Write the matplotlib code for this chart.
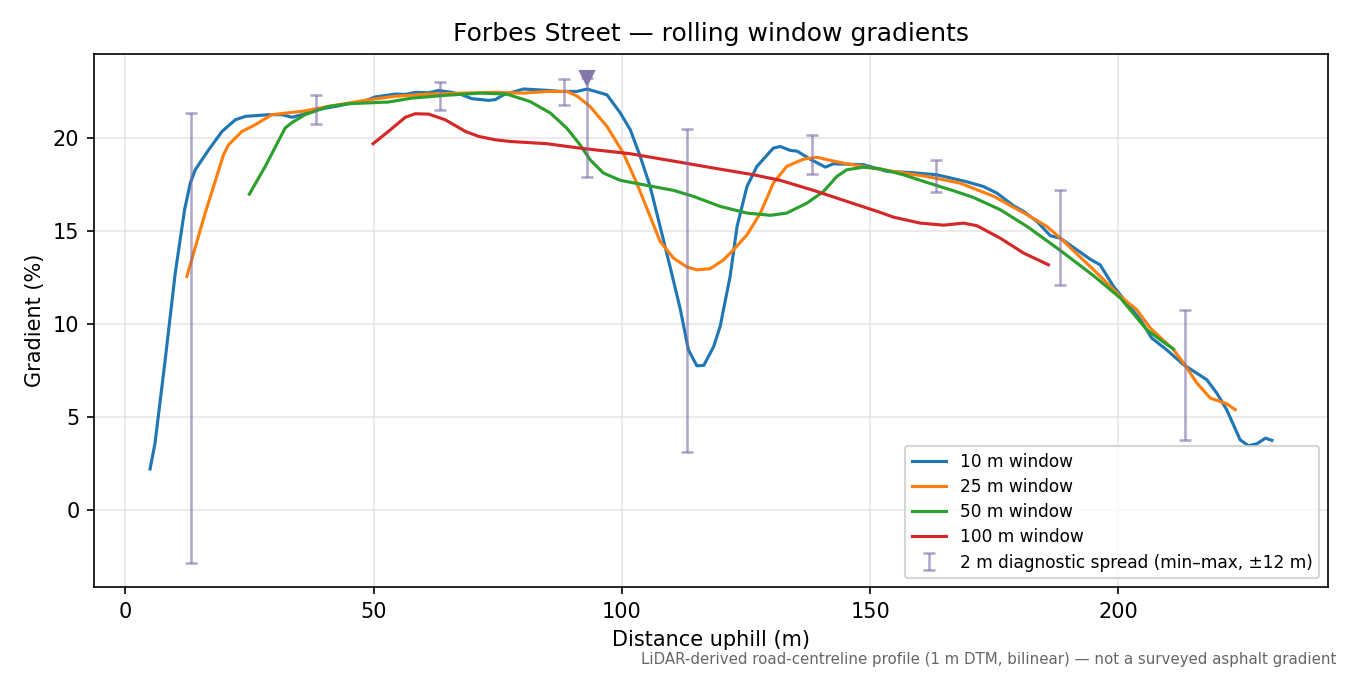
import matplotlib
matplotlib.use("Agg")
import matplotlib.pyplot as plt
import numpy as np

# 10 m window
x10 = [5.0, 6.0, 8.05, 10.07, 11.95, 13.1, 14.1, 16.8, 19.5, 22.2, 24.2, 28.9, 31.6, 33.6, 35.6,
       38.3, 42.3, 45.0, 47.7, 50.3, 54.4, 56.4, 58.4, 61.1, 63.1, 65.8, 67.8, 69.8, 73.2, 74.5,
       76.2, 80.2, 84.9, 87.6, 91.0, 93.0, 97.0, 99.7, 101.7, 103.7, 105.7, 107.7, 109.7, 111.8,
       113.4, 115.1, 116.5, 118.5, 119.8, 121.8, 123.2, 125.2, 127.2, 130.5, 131.9, 133.9, 135.3,
       137.9, 141.0, 142.6, 148.7, 153.4, 158.1, 163.4, 169.5, 172.8, 175.5, 178.9, 180.9, 183.6,
       186.3, 188.3, 191.6, 194.3, 196.3, 199.0, 201.7, 204.4, 206.7, 209.7, 213.1, 217.8, 219.8,
       221.8, 224.5, 226.2, 227.9, 229.6, 230.9]
g10 = [2.19, 3.58, 8.06, 12.72, 16.13, 17.56, 18.28, 19.35, 20.34, 20.97, 21.15, 21.24, 21.24, 21.1, 21.24,
       21.5, 21.68, 21.83, 21.92, 22.19, 22.35, 22.33, 22.44, 22.42, 22.54, 22.44, 22.31, 22.1, 22.01, 22.05,
       22.31, 22.62, 22.55, 22.49, 22.49, 22.62, 22.31, 21.33, 20.43, 19.0, 17.38, 15.23, 13.08, 10.75,
       8.6, 7.74, 7.76, 8.78, 9.86, 12.54, 15.23, 17.38, 18.46, 19.44, 19.53, 19.32, 19.28,
       18.85, 18.42, 18.6, 18.55, 18.19, 18.13, 18.01, 17.63, 17.38, 17.03, 16.34, 16.04, 15.5,
       14.73, 14.6, 13.98, 13.47, 13.17, 12.01, 11.11, 10.22, 9.23, 8.6, 7.8, 6.99, 6.27,
       5.38, 3.76, 3.44, 3.55, 3.85, 3.73]

# 25 m window
x25 = [12.4, 16.1, 19.8, 20.8, 23.5, 26.2, 29.5, 35.6, 40.9, 47.7, 54.4, 61.1, 67.8, 74.5, 80.2,
       84.9, 88.9, 91.0, 93.6, 97.0, 100.3, 103.0, 105.7, 107.7, 110.4, 113.1, 115.1, 117.8, 120.5,
       122.5, 125.2, 127.9, 130.5, 133.2, 136.6, 139.3, 142.0, 145.3, 152.0, 154.7, 161.4, 168.1,
       174.9, 181.6, 185.6, 188.3, 195.0, 200.4, 203.7, 206.4, 211.1, 213.1, 215.8, 218.5, 220.5,
       221.8, 223.5]
g25 = [12.54, 15.95, 19.09, 19.62, 20.34, 20.7, 21.24, 21.42, 21.68, 21.99, 22.23, 22.35, 22.4, 22.44, 22.4,
       22.49, 22.49, 22.24, 21.68, 20.61, 19.18, 17.56, 15.77, 14.43, 13.53, 13.05, 12.9, 12.96, 13.44,
       13.98, 14.78, 15.95, 17.56, 18.46, 18.85, 18.95, 18.78, 18.6, 18.31, 18.19, 17.92, 17.56,
       16.85, 15.86, 15.23, 14.6, 12.9, 11.47, 10.75, 9.77, 8.6, 7.89, 6.81, 6.0, 5.82,
       5.7, 5.38]

# 50 m window
x50 = [25.0, 28.2, 32.2, 33.6, 36.2, 40.9, 45.0, 53.0, 57.7, 64.4, 71.5, 76.8, 81.5, 85.6, 88.9,
       91.6, 93.6, 96.3, 99.7, 105.0, 110.4, 114.4, 119.8, 125.2, 129.9, 133.2, 137.3, 140.6, 143.3,
       145.3, 148.7, 152.0, 156.7, 161.4, 166.8, 170.8, 176.2, 181.6, 188.3, 195.0, 200.4, 205.7,
       208.4, 211.1]
g50 = [16.97, 18.46, 20.52, 20.82, 21.24, 21.68, 21.83, 21.92, 22.13, 22.28, 22.4, 22.35, 21.95, 21.33, 20.52,
       19.62, 18.82, 18.1, 17.71, 17.44, 17.17, 16.85, 16.31, 15.95, 15.83, 15.95, 16.49, 17.11, 17.92,
       18.28, 18.42, 18.33, 18.01, 17.6, 17.15, 16.79, 16.13, 15.23, 13.94, 12.58, 11.38, 9.68,
       9.14, 8.64]

# 100 m window
x100 = [49.9, 53.0, 56.4, 58.4, 61.1, 64.4, 68.5, 71.2, 74.5, 77.5, 84.9, 91.6, 101.7, 111.8, 118.5,
        126.5, 131.9, 138.6, 145.3, 152.0, 154.7, 160.1, 164.8, 168.8, 171.5, 176.2, 180.9, 185.9]
g100 = [19.68, 20.34, 21.1, 21.29, 21.27, 20.97, 20.34, 20.07, 19.89, 19.8, 19.68, 19.44, 19.14, 18.68, 18.37,
        18.01, 17.71, 17.17, 16.58, 15.99, 15.73, 15.41, 15.3, 15.41, 15.27, 14.6, 13.8, 13.17]

# 2 m diagnostic spread (min-max, +-12 m)
spread_x = [13.3, 38.4, 63.4, 88.4, 93.0, 113.2, 138.3, 163.3, 188.3, 213.4]
spread_min = [-2.85, 20.75, 21.5, 21.77, 17.87, 3.08, 18.03, 17.06, 12.06, 3.73]
spread_max = [21.34, 22.3, 23.0, 23.17, 23.2, 20.48, 20.16, 18.78, 17.2, 10.75]

# steepest 2 m point marker
peak_x = [93.0]
peak_y = [23.2]

fig = plt.figure(figsize=(9, 4.5), dpi=150)
ax = fig.add_axes([0.0696, 0.1304, 0.9141, 0.7896])

ax.plot(x10, g10, color='#1f77b4', lw=1.5, label='10 m window')
ax.plot(x25, g25, color='#ff7f0e', lw=1.5, label='25 m window')
ax.plot(x50, g50, color='#2ca02c', lw=1.5, label='50 m window')
ax.plot(x100, g100, color='#d62728', lw=1.5, label='100 m window')

sx = np.array(spread_x)
smin = np.array(spread_min)
smax = np.array(spread_max)
mid = (smin + smax) / 2
ax.errorbar(sx, mid, yerr=[mid - smin, smax - mid], fmt='none', ecolor='#7b68a6',
            alpha=0.6, elinewidth=1.2, capsize=3, capthick=1.2,
            label='2 m diagnostic spread (min–max, ±12 m)')
ax.plot(peak_x, peak_y, marker='v', color='#8677ab', ms=6.5, ls='none')

ax.grid(True, color='#dddddd', alpha=0.7, lw=0.8)
ax.set_axisbelow(True)
ax.set_title('Forbes Street — rolling window gradients', fontsize=12)
ax.set_xlabel('Distance uphill (m)', fontsize=10)
ax.set_ylabel('Gradient (%)', fontsize=10)
ax.legend(loc='lower right', fontsize=8.2, labelspacing=0.42)

fig.text(0.99, 0.012, 'LiDAR-derived road-centreline profile (1 m DTM, bilinear) — not a surveyed asphalt gradient',
         ha='right', va='bottom', fontsize=7.2, color='#666666')

fig.savefig('out.png', dpi=150)
